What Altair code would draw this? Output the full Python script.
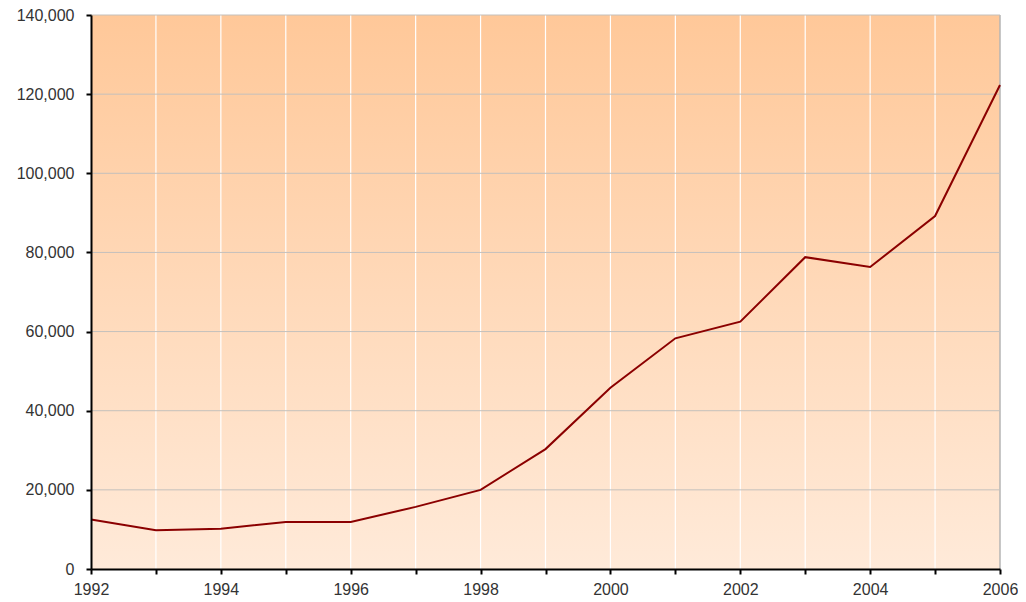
import altair as alt
import pandas as pd

years = list(range(1992, 2007))
values = [12500, 9800, 10200, 11900, 11900, 15700, 20000, 30300, 45800,
          58300, 62500, 78800, 76300, 89200, 122300]
y_ticks = [0, 20000, 40000, 60000, 80000, 100000, 120000, 140000]
inner_years = years[1:-1]

W, H = 909, 554

df = pd.DataFrame({"year": years, "value": values})
vgrid = pd.DataFrame({"year": inner_years})
hgrid = pd.DataFrame({"value": y_ticks[1:]})
rgrid = pd.DataFrame({"year": [years[-1]]})

xscale = alt.Scale(domain=[years[0], years[-1]], nice=False, zero=False)
yscale = alt.Scale(domain=[0, 140000], nice=False)

font = "Liberation Sans"

bg = alt.Chart(pd.DataFrame({"a": [0]})).mark_rect(
    color=alt.Gradient(
        gradient="linear",
        stops=[alt.GradientStop(color="#FFC899", offset=0),
               alt.GradientStop(color="#FFEAD9", offset=1)],
        x1=0, x2=0, y1=0, y2=1,
    )
).encode(x=alt.value(0), x2=alt.value(W), y=alt.value(0), y2=alt.value(H))

vlines = alt.Chart(vgrid).mark_rule(color="#FFFFFF", strokeWidth=1.2).encode(
    x=alt.X("year:Q", scale=xscale)
)
rline = alt.Chart(rgrid).mark_rule(color="#B4B4B4", strokeWidth=1.5).encode(
    x=alt.X("year:Q", scale=xscale)
)
hlines = alt.Chart(hgrid).mark_rule(color="#C4C0BC", strokeWidth=1).encode(
    y=alt.Y("value:Q", scale=yscale)
)

line = alt.Chart(df).mark_line(color="#8B0000", strokeWidth=2).encode(
    x=alt.X("year:Q", scale=xscale, title=None,
            axis=alt.Axis(values=years, format="d",
                          labelExpr="datum.value % 2 == 0 ? datum.label : ''",
                          grid=False, domainColor="#000000", domainWidth=2,
                          tickColor="#000000", tickWidth=2, tickSize=5,
                          labelPadding=7, labelFont=font, labelFontSize=16,
                          labelColor="#333333", labelFlush=False,
                          labelOverlap=False, zindex=2)),
    y=alt.Y("value:Q", scale=yscale, title=None,
            axis=alt.Axis(values=y_ticks, format=",d", grid=False,
                          domainColor="#000000", domainWidth=2,
                          tickColor="#000000", tickWidth=2, tickSize=5,
                          labelPadding=12, labelFont=font, labelFontSize=16,
                          labelColor="#333333", zindex=2)),
)

chart = alt.layer(bg, vlines, rline, hlines, line).properties(
    width=W, height=H,
    autosize=alt.AutoSizeParams(type="none"),
    padding={"left": 83, "top": 7, "right": 18, "bottom": 29},
    background="#FFFFFF",
).configure_view(stroke=None)

chart.save("out.html", embed_options={"renderer": "svg", "actions": False})
